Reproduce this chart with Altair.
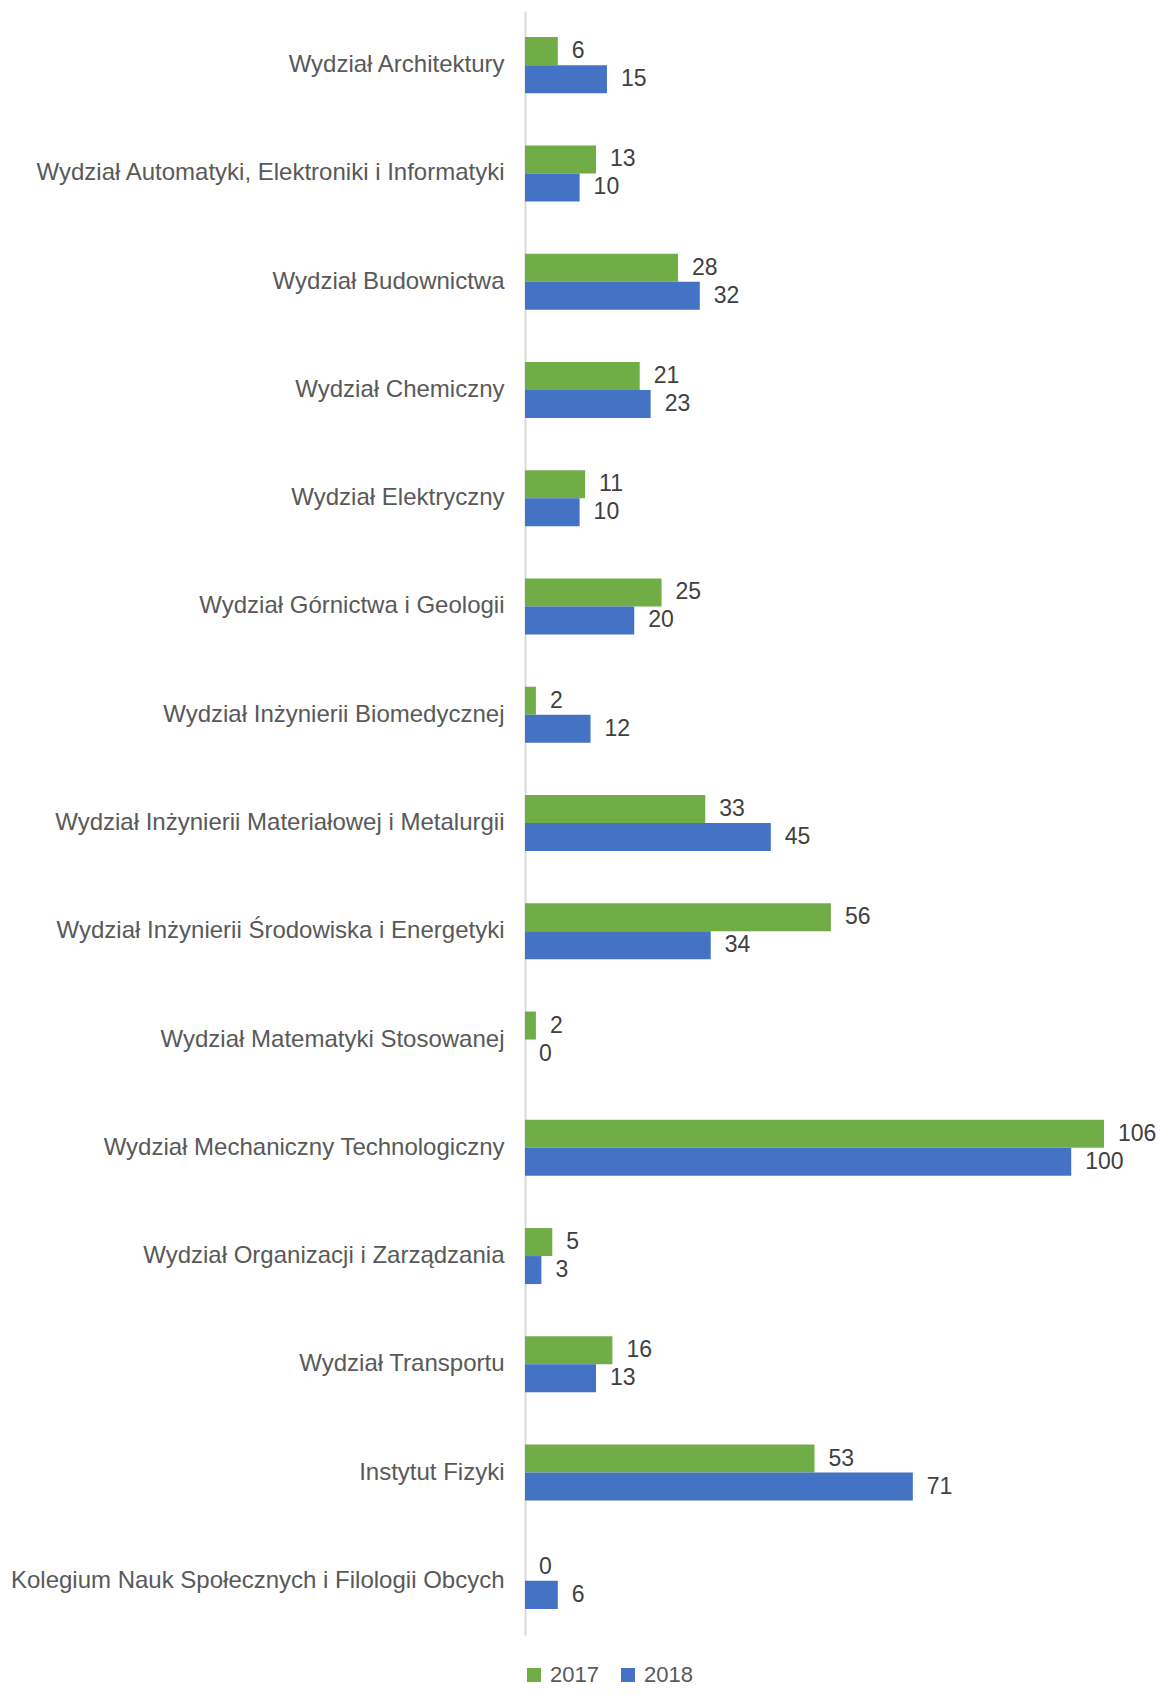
import altair as alt
import pandas as pd

categories = [
    "Wydział Architektury",
    "Wydział Automatyki, Elektroniki i Informatyki",
    "Wydział Budownictwa",
    "Wydział Chemiczny",
    "Wydział Elektryczny",
    "Wydział Górnictwa i Geologii",
    "Wydział Inżynierii Biomedycznej",
    "Wydział Inżynierii Materiałowej i Metalurgii",
    "Wydział Inżynierii Środowiska i Energetyki",
    "Wydział Matematyki Stosowanej",
    "Wydział Mechaniczny Technologiczny",
    "Wydział Organizacji i Zarządzania",
    "Wydział Transportu",
    "Instytut Fizyki",
    "Kolegium Nauk Społecznych i Filologii Obcych",
]
values_2017 = [6, 13, 28, 21, 11, 25, 2, 33, 56, 2, 106, 5, 16, 53, 0]
values_2018 = [15, 10, 32, 23, 10, 20, 12, 45, 34, 0, 100, 3, 13, 71, 6]
years = ["2017", "2018"]
colors = ["#70AD47", "#4472C4"]

rows = []
for c, a, b in zip(categories, values_2017, values_2018):
    rows.append({"cat": c, "year": "2017", "value": a})
    rows.append({"cat": c, "year": "2018", "value": b})
df = pd.DataFrame(rows)

FONT = "Liberation Sans"

y_enc = alt.Y(
    "cat:N",
    sort=categories,
    scale=alt.Scale(paddingInner=0.4826, paddingOuter=0.2413),
    axis=alt.Axis(
        title=None,
        ticks=False,
        labelFont=FONT,
        labelFontSize=24,
        labelColor="#595959",
        labelPadding=21,
        labelLimit=600,
        domainColor="#D9D9D9",
        domainWidth=2,
        grid=False,
    ),
)
yoff = alt.YOffset("year:N", sort=years, scale=alt.Scale(paddingInner=0, paddingOuter=0))
x_enc = alt.X("value:Q", scale=alt.Scale(domain=[0, 115.7], nice=False), axis=None)

bars = alt.Chart(df).mark_bar().encode(
    x=x_enc,
    y=y_enc,
    yOffset=yoff,
    color=alt.Color(
        "year:N",
        sort=years,
        scale=alt.Scale(domain=years, range=colors),
        legend=alt.Legend(
            title=None,
            orient="none",
            direction="horizontal",
            legendX=-2,
            legendY=1653,
            symbolType="square",
            symbolSize=196,
            symbolStrokeWidth=0,
            labelFont=FONT,
            labelFontSize=22,
            labelColor="#595959",
            labelOffset=5,
            columnPadding=18,
            padding=0,
        ),
    ),
)

labels = alt.Chart(df).mark_text(
    align="left", baseline="middle", dx=14, font=FONT, fontSize=23, color="#404040"
).encode(
    x=x_enc,
    y=y_enc,
    yOffset=yoff,
    text=alt.Text("value:Q"),
)

chart = (
    alt.layer(bars, labels)
    .properties(
        width=632,
        height=1624,
        autosize=alt.AutoSizeParams(type="none"),
        padding={"left": 517, "top": 3, "right": 0, "bottom": 52},
    )
    .configure_view(stroke=None)
)

chart.save("out.html", embed_options={"renderer": "svg", "actions": False})
